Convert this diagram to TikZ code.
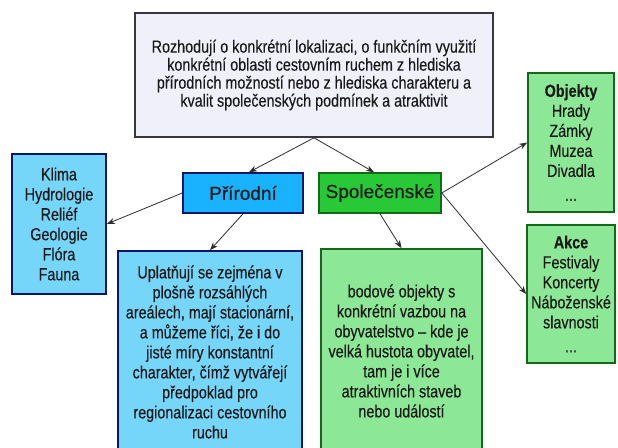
\documentclass[tikz,border=0pt]{standalone}
\usepackage{fontspec}
\setmainfont{Liberation Sans}[FakeStretch=0.82,FakeBold=0.25]
\newfontfamily\widefont{Liberation Sans}[FakeBold=0.25]
\usetikzlibrary{arrows.meta}
\definecolor{lavender}{RGB}{240,240,251}
\definecolor{framegray}{RGB}{55,55,60}
\definecolor{navy}{RGB}{12,22,105}
\definecolor{skyblue}{RGB}{118,214,250}
\definecolor{deepsky}{RGB}{25,178,255}
\definecolor{leafgreen}{RGB}{40,200,55}
\definecolor{mintgreen}{RGB}{140,232,150}
\definecolor{darkgreen}{RGB}{20,105,25}
\definecolor{inkgray}{RGB}{45,45,45}
\tikzstyle{arrow} = [->,>={Stealth[length=8pt,width=6pt]},draw=inkgray,line width=0.8pt]
\tikzstyle{box} = [draw,line width=1.6pt,align=center,inner sep=0pt,text=black!90,font=\fontsize{17.5}{20}\selectfont]
\tikzstyle{topbox} = [box,draw=framegray,fill=lavender,font=\fontsize{17.5}{18}\selectfont]
\tikzstyle{bluebox} = [box,draw=navy,fill=skyblue]
\tikzstyle{greenbox} = [box,draw=darkgreen,fill=mintgreen]
\tikzstyle{headbox} = [box,font=\widefont\fontsize{19}{20}\selectfont]

\begin{document}
\begin{tikzpicture}[x=1pt,y=-1pt]
		\useasboundingbox (0,0) rectangle (618,447);
		\clip (0,0) rectangle (618,447);
		\fill[white] (0,0) rectangle (618,447);
		\begin{scope}

		% Draw the boxes
		\node[topbox,minimum width=358,minimum height=124] (top) at (314,75)
			{Rozhodují o konkrétní lokalizaci, o funkčním využití\\
			konkrétní oblasti cestovním ruchem z hlediska\\
			přírodních možností nebo z hlediska charakteru a\\
			kvalit společenských podmínek a atraktivit};
		\node[headbox,draw=navy,fill=deepsky,minimum width=120,minimum height=40] (prir) at (243,193) {Přírodní};
		\node[headbox,draw=darkgreen,fill=leafgreen,minimum width=122,minimum height=40] (spol) at (380,193) {Společenské};
		\node[bluebox,minimum width=94,minimum height=140] (klima) at (59,224)
			{Klima\\Hydrologie\\Reliéf\\Geologie\\Flóra\\Fauna};
		\node[bluebox,minimum width=184,minimum height=202] (upl) at (210,352)
			{Uplatňují se zejména v\\plošně rozsáhlých\\areálech, mají stacionární,\\a můžeme říci, že i do\\
			jisté míry konstantní\\charakter, čímž vytvářejí\\předpoklad pro\\regionalizaci cestovního\\ruchu};
		\node[greenbox,minimum width=161,minimum height=204] (bod) at (401.5,351)
			{bodové objekty s\\konkrétní vazbou na\\obyvatelstvo – kde je\\velká hustota obyvatel,\\
			tam je i více\\atraktivních staveb\\nebo událostí};
		\node[greenbox,minimum width=86,minimum height=139] (obj) at (571,142.5)
			{\textbf{Objekty}\\Hrady\\Zámky\\Muzea\\Divadla\\[4pt]...};
		\node[greenbox,minimum width=88,minimum height=138] (akce) at (571,294)
			{\textbf{Akce}\\Festivaly\\Koncerty\\Náboženské\\slavnosti\\[4pt]...};

		% Draw the arrows
		\draw[arrow] (top.south) -- ([xshift=6]prir.north);
		\draw[arrow] (top.south) -- ([xshift=-6]spol.north);
		\draw[arrow] (prir.west) -- (klima.east);
		\draw[arrow] (prir.south) -- (upl.north);
		\draw[arrow] (spol.south) -- (bod.north);
		\draw[arrow] (spol.east) -- (obj.west);
		\draw[arrow] (spol.east) -- (akce.west);

		\end{scope}
\end{tikzpicture}
\end{document}
